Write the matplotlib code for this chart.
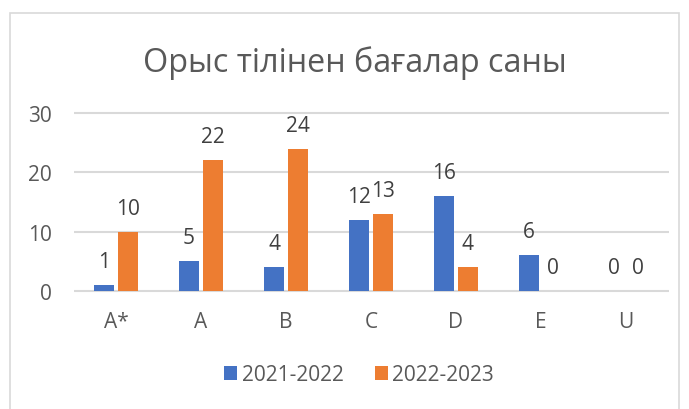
import numpy as np
import matplotlib
matplotlib.use('Agg')
import matplotlib.pyplot as plt
from matplotlib.patches import Rectangle

plt.rcParams['font.family'] = ['Open Sans', 'DejaVu Sans']

# data
grades = ['A*', 'A', 'B', 'C', 'D', 'E', 'U']
y2122 = [1, 5, 4, 12, 16, 6, 0]
y2223 = [10, 22, 24, 13, 4, 0, 0]
series_names = ['2021-2022', '2022-2023']
yticks = [0, 10, 20, 30]

W, H = 689, 410
fs = 15
fig = plt.figure(figsize=(W / 100, H / 100), dpi=100)

# light grey chart border (Excel style)
fig.patches.append(Rectangle((10 / W, -0.05), 669 / W, 1.05 - 14 / H,
                             transform=fig.transFigure, fill=False,
                             edgecolor='#d9d9d9', linewidth=1.2))

ax = fig.add_axes([73.5 / W, 116.2 / H, 595 / W, 181.6 / H])
x = np.arange(len(grades))
bw = 0.224
off = 0.141
b1 = ax.bar(x - off, y2122, bw, color='#4472C4', label=series_names[0], zorder=3)
b2 = ax.bar(x + off, y2223, bw, color='#ED7D31', label=series_names[1], zorder=3)

for bars, vals in ((b1, y2122), (b2, y2223)):
    for r, v in zip(bars, vals):
        ax.annotate(str(v), (r.get_x() + r.get_width() / 2, v),
                    xytext=(0, 13), textcoords='offset points',
                    ha='center', va='baseline', fontsize=fs, color='#404040')

ax.set_xlim(-0.5, 6.5)
ax.set_ylim(-0.3, 30.3)
ax.set_yticks(yticks)
ax.set_xticks(x)
ax.set_xticklabels(grades)
ax.yaxis.grid(True, color='#d9d9d9', linewidth=1.5, zorder=0)
ax.set_axisbelow(True)
for side in ax.spines.values():
    side.set_visible(False)
ax.tick_params(axis='both', length=0, labelsize=fs, labelcolor='#595959')
ax.tick_params(axis='x', pad=13)
ax.tick_params(axis='y', pad=15.5)

fig.text(355 / W, 1 - 72 / H, 'Орыс тілінен бағалар саны', ha='center',
         va='baseline', fontsize=23.3, color='#595959')

ax.legend(loc='center', bbox_to_anchor=(359 / W, 1 - 376 / H),
          bbox_transform=fig.transFigure, ncol=2, frameon=False,
          fontsize=fs, labelcolor='#595959', handlelength=0.65,
          handleheight=0.65, handletextpad=0.2, columnspacing=1.5)

fig.savefig('out.png', dpi=100)
